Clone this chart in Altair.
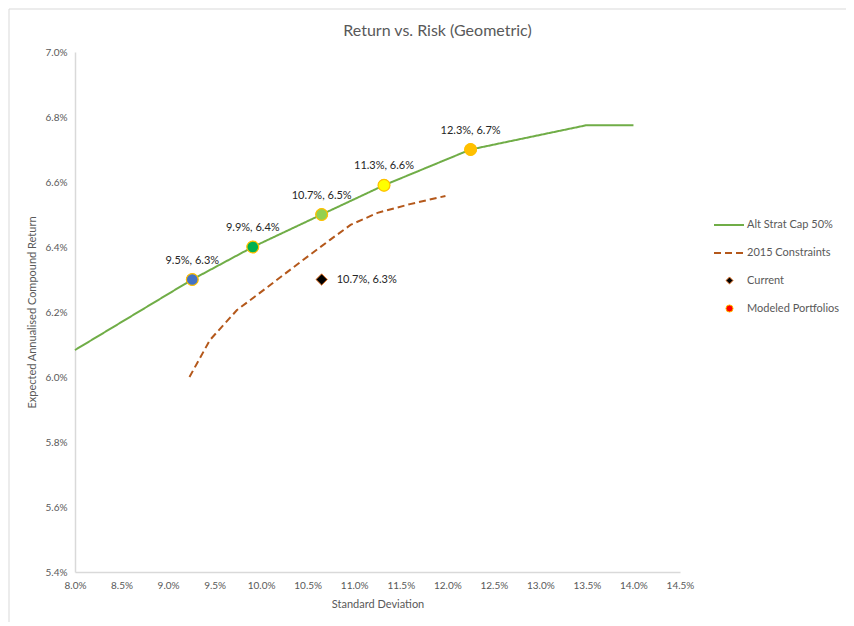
import altair as alt
import pandas as pd

# ---- data (values in percent) ----
alt_sd = [8.0, 9.26, 9.91, 10.65, 11.32, 12.25, 13.5, 14.0]
alt_ret = [6.083, 6.30, 6.40, 6.50, 6.59, 6.70, 6.775, 6.775]

con_sd = [9.23, 9.45, 9.74, 10.07, 10.45, 10.74, 10.96, 11.25, 11.60, 11.98]
con_ret = [6.00, 6.114, 6.206, 6.277, 6.36, 6.422, 6.468, 6.505, 6.532, 6.557]

mod_sd = [9.26, 9.91, 10.65, 11.32, 12.25]
mod_ret = [6.30, 6.40, 6.50, 6.59, 6.70]
mod_labels = ["9.5%, 6.3%", "9.9%, 6.4%", "10.7%, 6.5%", "11.3%, 6.6%", "12.3%, 6.7%"]
mod_colors = ["#4472C4", "#00B050", "#92D050", "#FFFF00", "#FFC000"]

cur_sd = [10.65]
cur_ret = [6.30]
cur_labels = ["10.7%, 6.3%"]

x_ticks = [8.0, 8.5, 9.0, 9.5, 10.0, 10.5, 11.0, 11.5, 12.0, 12.5, 13.0, 13.5, 14.0, 14.5]
y_ticks = [5.4, 5.6, 5.8, 6.0, 6.2, 6.4, 6.6, 6.8, 7.0]

series_names = ["Alt Strat Cap 50%", "2015 Constraints"]
series_colors = ["#70AD47", "#B4581B"]
point_kinds = ["Current", "Modeled Portfolios"]
point_fills = ["#000000", "#FF0000"]
point_strokes = ["#ED7D31", "#FFC000"]

# ---- tables ----
lines_df = pd.concat([
    pd.DataFrame({"sd": alt_sd, "ret": alt_ret, "series": series_names[0], "o": range(len(alt_sd))}),
    pd.DataFrame({"sd": con_sd, "ret": con_ret, "series": series_names[1], "o": range(len(con_sd))}),
])
pts_df = pd.concat([
    pd.DataFrame({"sd": cur_sd, "ret": cur_ret, "kind": point_kinds[0]}),
    pd.DataFrame({"sd": mod_sd, "ret": mod_ret, "kind": point_kinds[1]}),
])
mod_df = pd.DataFrame({"sd": mod_sd, "ret": mod_ret, "label": mod_labels, "color": mod_colors})
cur_df = pd.DataFrame({"sd": cur_sd, "ret": cur_ret, "label": cur_labels})

FONT = "Lato"
GREY = "#595959"

X = alt.X("sd:Q", scale=alt.Scale(domain=[8.0, 14.5], nice=False, zero=False),
          axis=alt.Axis(values=x_ticks, labelExpr="format(datum.value, '.1f') + '%'",
                        labelFlush=False, labelOverlap=False,
                        title="Standard Deviation"))
Y = alt.Y("ret:Q", scale=alt.Scale(domain=[5.4, 7.0], nice=False, zero=False),
          axis=alt.Axis(values=y_ticks, labelExpr="format(datum.value, '.1f') + '%'",
                        labelFlush=False, labelOverlap=False,
                        title="Expected Annualised Compound Return"))

line_legend = alt.Legend(title=None, orient="none", legendX=638, legendY=157,
                         symbolType="stroke", symbolSize=900, symbolStrokeWidth=2,
                         labelOffset=2, rowPadding=7, labelFontSize=11,
                         labelColor=GREY, labelFont=FONT, padding=0)
pt_legend = alt.Legend(title=None, orient="none", legendX=649, legendY=223,
                       symbolSize=50, symbolStrokeWidth=1, labelOffset=12,
                       rowPadding=15, labelFontSize=11, labelColor=GREY,
                       labelFont=FONT, padding=0)

frame = alt.Chart(pd.DataFrame({"a": [0]})).mark_rect(
    fill="white", fillOpacity=0, stroke="#d9d9d9", strokeWidth=1
).encode(x=alt.value(-66), x2=alt.value(820), y=alt.value(-43), y2=alt.value(620))

lines = alt.Chart(lines_df).mark_line(strokeWidth=2).encode(
    x=X, y=Y, order="o:Q",
    color=alt.Color("series:N", scale=alt.Scale(domain=series_names, range=series_colors), legend=line_legend),
    strokeDash=alt.StrokeDash("series:N", scale=alt.Scale(domain=series_names, range=[[1, 0], [7, 4]]), legend=line_legend),
)

legend_pts = alt.Chart(pts_df).mark_point(filled=True, opacity=1, strokeWidth=1).encode(
    x=X, y=Y,
    shape=alt.Shape("kind:N", scale=alt.Scale(domain=point_kinds, range=["diamond", "circle"]), legend=pt_legend),
    fill=alt.Fill("kind:N", scale=alt.Scale(domain=point_kinds, range=point_fills), legend=pt_legend),
    stroke=alt.Stroke("kind:N", scale=alt.Scale(domain=point_kinds, range=point_strokes), legend=pt_legend),
    size=alt.value(130),
)

mod_pts = alt.Chart(mod_df).mark_point(filled=True, opacity=1, shape="circle", strokeWidth=1.2,
                                       stroke="#FFC000", size=140).encode(
    x=X, y=Y, fill=alt.Fill("color:N", scale=None, legend=None)
)

mod_text = alt.Chart(mod_df).mark_text(font=FONT, fontSize=11, color="#262626", dy=-19).encode(
    x=X, y=Y, text="label:N"
)
cur_text = alt.Chart(cur_df).mark_text(font=FONT, fontSize=11, color="#262626", dx=15, align="left").encode(
    x=X, y=Y, text="label:N"
)

chart = alt.layer(frame, lines, legend_pts, mod_pts, mod_text, cur_text).properties(
    width=605, height=520,
    autosize="none",
    padding={"left": 67, "top": 44, "right": 166, "bottom": 50},
    title=alt.TitleParams("Return vs. Risk (Geometric)", fontSize=16, color=GREY, font=FONT,
                          fontWeight="normal", anchor="middle", dx=60, offset=0, dy=30),
).configure_view(stroke=None).configure_axis(
    grid=False, ticks=False, domainColor="#d9d9d9", domainWidth=1.5,
    labelFont=FONT, labelFontSize=10, labelColor=GREY, labelPadding=8,
    titleFont=FONT, titleFontSize=11, titleColor=GREY, titleFontWeight="normal",
).configure_axisY(titlePadding=8).configure_axisX(titlePadding=8)

chart.save("out.html", embed_options={"renderer": "svg", "actions": False})
